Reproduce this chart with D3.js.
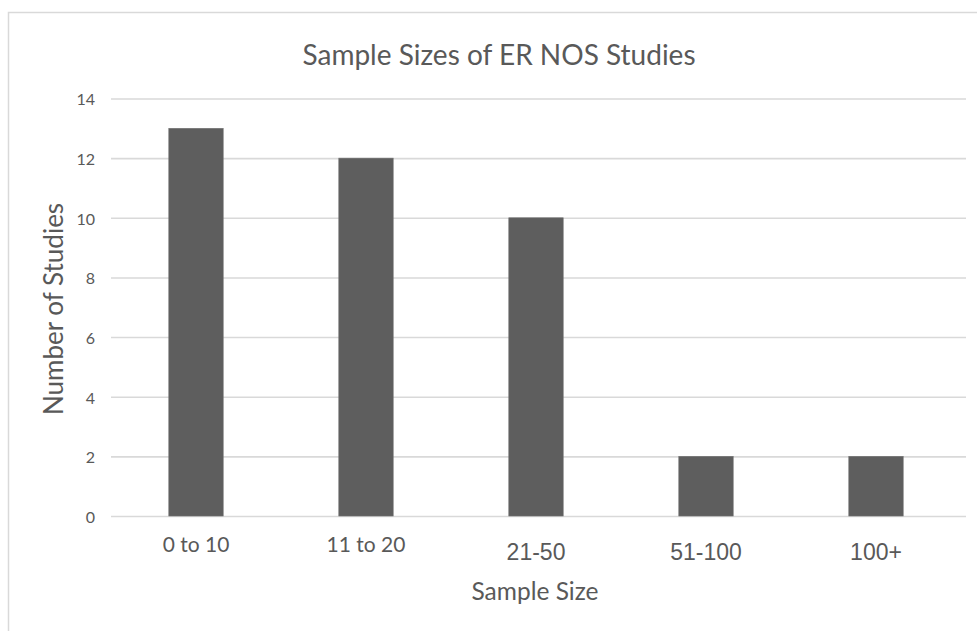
<!DOCTYPE html>
<html>
<head>
<meta charset="utf-8">
<script src="https://cdn.jsdelivr.net/npm/d3@7"></script>
<style>
  html, body { margin: 0; padding: 0; background: #fff; }
  svg { display: block; }
</style>
</head>
<body>
<svg id="chart" width="977" height="631"></svg>
<script>
// Sample-size bins and number of studies in each
const categories = ["0 to 10", "11 to 20", "21-50", "51-100", "100+"];
const studyCounts = [13, 12, 10, 2, 2];
const yTicks = [0, 2, 4, 6, 8, 10, 12, 14];
// the last three bin labels are set in a different typeface
const altFontLabels = ["21-50", "51-100", "100+"];

const svg = d3.select("#chart");
const W = 977, H = 631;
const textColor = "#595959";
const calibriLike = "Lato, 'Open Sans', sans-serif";
const arialLike = "'Liberation Sans', Arial, sans-serif";

// chart frame (runs off the right and bottom edges)
svg.append("rect")
  .attr("x", 8.5).attr("y", 12.5)
  .attr("width", W + 10).attr("height", H + 10)
  .attr("fill", "#fff").attr("stroke", "#d9d9d9").attr("stroke-width", 1.5);

const plot = { left: 111, right: 961, top: 98.5, bottom: 516 };

const x = d3.scaleBand()
  .domain(categories)
  .range([plot.left, plot.right])
  .paddingInner(0.68)
  .paddingOuter(0.34);

const y = d3.scaleLinear()
  .domain([0, 14])
  .range([plot.bottom, plot.top]);

// horizontal gridlines
const yAxis = d3.axisLeft(y).tickValues(yTicks).tickSize(-(966 - plot.left)).tickPadding(16);
const gy = svg.append("g")
  .attr("transform", `translate(${plot.left},0)`)
  .call(yAxis);
gy.select(".domain").remove();
gy.selectAll(".tick line").attr("stroke", "#d9d9d9").attr("stroke-width", 1.6);
gy.selectAll(".tick text")
  .attr("fill", textColor)
  .attr("font-family", calibriLike)
  .attr("font-size", 16)
  .attr("dy", "0.4em");

// bars
svg.append("g").selectAll("rect")
  .data(categories.map((c, i) => ({ c, v: studyCounts[i] })))
  .join("rect")
  .attr("x", d => x(d.c))
  .attr("y", d => y(d.v))
  .attr("width", x.bandwidth())
  .attr("height", d => y(0) - y(d.v))
  .attr("fill", "#5e5e5e")
  .attr("stroke", "#707070")
  .attr("stroke-width", 0.6);

// category labels
const xAxis = d3.axisBottom(x).tickSize(0);
const gx = svg.append("g")
  .attr("transform", `translate(0,${plot.bottom})`)
  .call(xAxis);
gx.select(".domain").remove();
gx.selectAll(".tick text")
  .attr("fill", textColor)
  .attr("dy", null)
  .each(function(d) {
    const alt = altFontLabels.includes(d);
    d3.select(this)
      .attr("font-family", alt ? arialLike : calibriLike)
      .attr("font-size", alt ? 23 : 21)
      .attr("y", alt ? 44 : 36);
  });

// title
svg.append("text")
  .attr("x", 499).attr("y", 65)
  .attr("text-anchor", "middle")
  .attr("fill", textColor)
  .attr("font-family", calibriLike)
  .attr("font-size", 28)
  .text("Sample Sizes of ER NOS Studies");

// axis titles
svg.append("text")
  .attr("x", 535).attr("y", 600)
  .attr("text-anchor", "middle")
  .attr("fill", textColor)
  .attr("font-family", calibriLike)
  .attr("font-size", 24.5)
  .text("Sample Size");

svg.append("text")
  .attr("transform", "translate(63,309) rotate(-90)")
  .attr("text-anchor", "middle")
  .attr("fill", textColor)
  .attr("font-family", calibriLike)
  .attr("font-size", 26)
  .text("Number of Studies");
</script>
</body>
</html>
